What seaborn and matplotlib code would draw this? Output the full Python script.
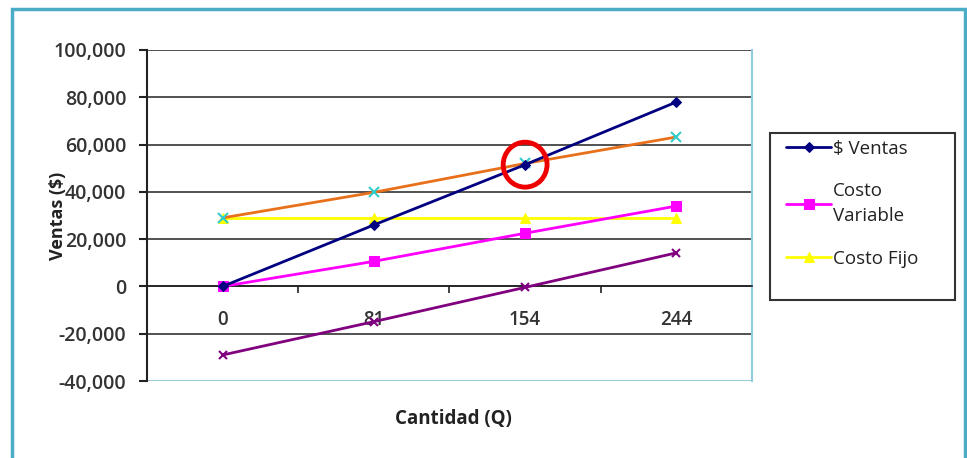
import numpy as np
import pandas as pd
import matplotlib.pyplot as plt
import seaborn as sns
from matplotlib.patches import Rectangle, Ellipse
from matplotlib.ticker import FuncFormatter, FixedLocator

# Data
cantidad = ["0", "81", "154", "244"]
ventas = [0, 26000, 51500, 78000]
costo_variable = [0, 10600, 22500, 34000]
costo_fijo = [29000, 29000, 29000, 29000]
costo_total = [29000, 39800, 52000, 63200]
utilidad = [-29000, -14900, -400, 14200]

sns.set_theme(style="white")
plt.rcParams['font.family'] = ['Open Sans', 'DejaVu Sans']

fig = plt.figure(figsize=(9.67, 4.58), dpi=100)
ax = fig.add_axes([147/967, 1 - 381/458, 605/967, 331/458])

pos = np.arange(len(cantidad))

sns.lineplot(x=pos, y=ventas, ax=ax, color="#000080", marker="D", markersize=5,
             markeredgecolor="#000080", linewidth=2, label="$ Ventas", zorder=5)
sns.lineplot(x=pos, y=costo_variable, ax=ax, color="#FF00FF", marker="s", markersize=7,
             markeredgecolor="#FF00FF", linewidth=2, label="Costo\nVariable", zorder=4)
sns.lineplot(x=pos, y=costo_fijo, ax=ax, color="#FFFF00", marker="^", markersize=7,
             markeredgecolor="#FFFF00", linewidth=2, label="Costo Fijo", zorder=3)
sns.lineplot(x=pos, y=costo_total, ax=ax, color="#E8701A", marker="x", markersize=7,
             markeredgecolor="#33CCCC", markeredgewidth=1.5, linewidth=2, label="Costo Total", zorder=4)
sns.lineplot(x=pos, y=utilidad, ax=ax, color="#800080", marker="x", markersize=6,
             markeredgecolor="#800080", markeredgewidth=1.5, linewidth=2, label="Utilidad", zorder=4)

ax.set_xlim(-0.5, len(cantidad) - 0.5)
ax.set_ylim(-40000, 100000)
ax.set_yticks(np.arange(-40000, 100001, 20000))
ax.yaxis.set_major_formatter(FuncFormatter(lambda v, p: f"{int(v):,}"))
ax.grid(axis="y", color="#333333", linewidth=1.2)
ax.grid(axis="x", visible=False)
ax.set_axisbelow(True)

# category axis crossing at zero
ax.spines['bottom'].set_position(('data', 0))
ax.spines['bottom'].set_color("#222222")
ax.spines['bottom'].set_linewidth(1.2)
ax.spines['left'].set_color("#222222")
ax.spines['left'].set_linewidth(1.5)
ax.spines['top'].set_visible(False)
ax.spines['right'].set_color("#8FCCDD")
ax.spines['right'].set_linewidth(1.5)
ax.set_xticks(pos)
ax.set_xticklabels(cantidad)
ax.xaxis.set_minor_locator(FixedLocator(np.arange(len(cantidad) + 1) - 0.5))
ax.tick_params(axis="x", which="major", length=0, pad=17, labelsize=13.5, labelcolor="#333333")
ax.tick_params(axis="x", which="minor", length=5, width=1.2, color="#222222", direction="out", bottom=True)
ax.tick_params(axis="y", length=6, width=1.5, color="#222222", direction="out", left=True,
               labelsize=14, labelcolor="#333333", pad=9)
for t in ax.get_yticklabels() + ax.get_xticklabels():
    t.set_fontweight("semibold")

# bottom edge of plot area
ax.axhline(-40000, color="#A8D8E6", linewidth=2, zorder=1)

ax.set_ylabel("Ventas ($)", fontsize=13, fontweight="bold", color="#222222")
ax.yaxis.set_label_coords(-0.132, 0.5)
ax.set_xlabel("Cantidad (Q)", fontsize=13.5, fontweight="bold", color="#222222")
ax.xaxis.set_label_coords(0.507, -0.084)

# legend shows only the first three series, box drawn separately
handles, labels = ax.get_legend_handles_labels()
leg = ax.legend(handles[:3], labels[:3], loc="upper left",
                bbox_to_anchor=(786/967, 1 - 140/458), bbox_transform=fig.transFigure,
                frameon=False, fontsize=13.5,
                handlelength=2.4, handletextpad=0.1, labelspacing=1.3,
                borderpad=0, borderaxespad=0)
for t in leg.get_texts():
    t.set_color("#222222")
    t.set_linespacing(1.5)
fig.patches.append(Rectangle((770/967, 1 - 300/458), 185/967, 167/458,
                             transform=fig.transFigure, fill=False,
                             edgecolor="#333333", linewidth=1.5))

# red circle highlighting the break-even point
circle = Ellipse((2, 51500), width=0.29, height=19000, fill=False,
                 edgecolor="#EE0000", linewidth=3.5, zorder=6, clip_on=False)
ax.add_patch(circle)

# outer chart border
fig.patches.append(Rectangle((12/967, -0.05), 953/967, 1 - 9/458 + 0.05,
                             transform=fig.transFigure, fill=False,
                             edgecolor="#4BACC6", linewidth=2.5))

fig.savefig("out.png", dpi=100)
